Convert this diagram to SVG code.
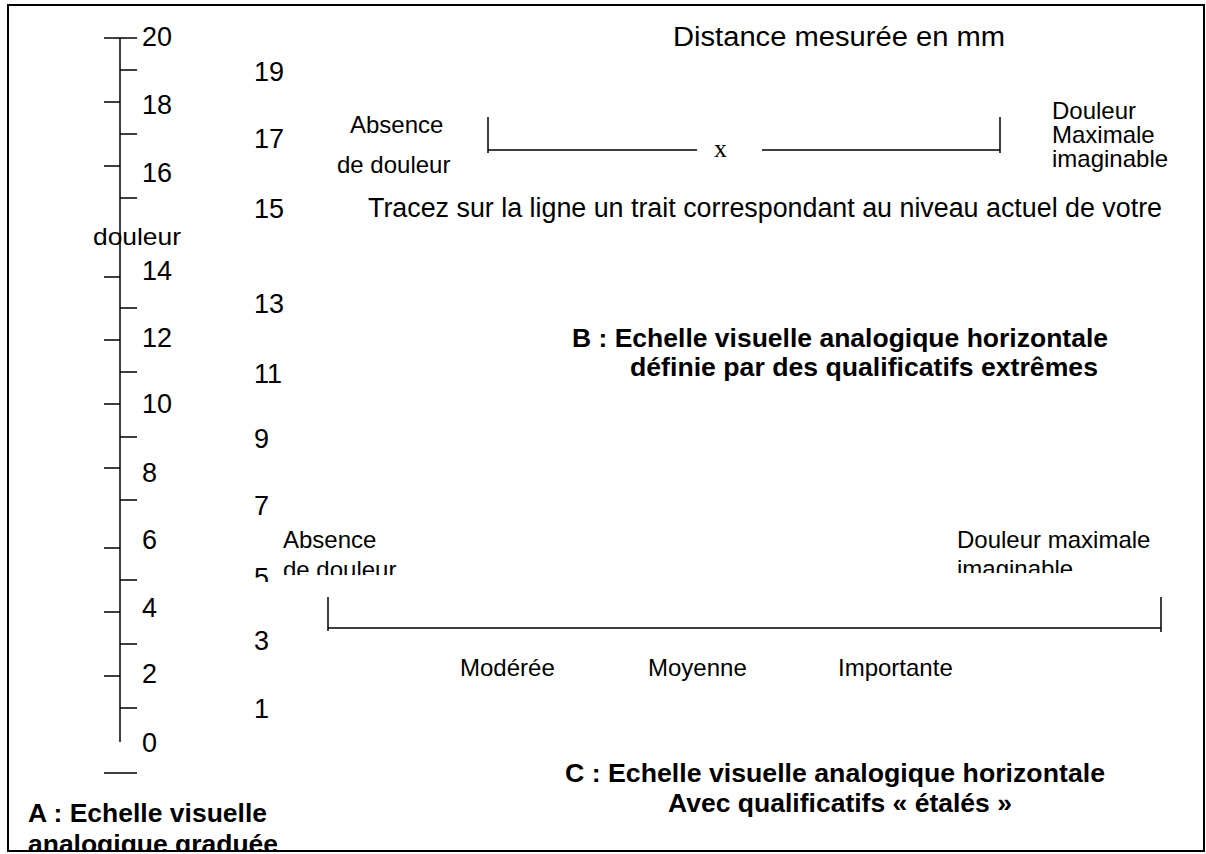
<svg xmlns="http://www.w3.org/2000/svg" width="1206" height="854" viewBox="0 0 1206 854">
<style>
.ln{stroke:#000;stroke-width:1.5;fill:none}
.fr{stroke:#000;stroke-width:2;fill:none}
.n{font-family:"Liberation Sans",Arial,sans-serif;font-size:27px;fill:#000}
.m{font-family:"Liberation Sans",Arial,sans-serif;font-size:24px;fill:#000}
.b{font-family:"Liberation Sans",Arial,sans-serif;font-size:25px;font-weight:bold;fill:#000}
.s{font-family:"Liberation Serif","Times New Roman",serif;font-size:26px;fill:#000}
</style>
<defs>
<clipPath id="cBr"><rect x="1040" y="90" width="160" height="82"/></clipPath>
<clipPath id="cCl"><rect x="270" y="520" width="150" height="55"/></clipPath>
<clipPath id="c5"><rect x="240" y="555" width="40" height="27"/></clipPath>
<clipPath id="cCr"><rect x="940" y="520" width="240" height="53"/></clipPath>
<clipPath id="cA"><rect x="10" y="790" width="300" height="60"/></clipPath>
</defs>
<rect x="0" y="0" width="1206" height="854" fill="#fff"/>
<g id="frame"><rect class="fr" x="8" y="5" width="1196" height="846"/></g>

<g id="scaleA">
<line class="ln" x1="120" y1="38" x2="120" y2="742"/>
<line class="ln" x1="104" y1="38" x2="137" y2="38"/>
<path class="ln" d="M120 70H137M120 134H137M120 198H137M120 308H137M120 372H137M120 437H137M120 500H137M120 580H137M120 644H137M120 708H137"/>
<path class="ln" d="M104 102H120M104 166H120M104 277H120M104 340H120M104 404H120M104 468H120M104 548H120M104 612H120M104 676H120"/>
<line class="ln" x1="104" y1="773" x2="137" y2="773"/>
<text class="n" x="142" y="46">20</text>
<text class="n" x="142" y="114">18</text>
<text class="n" x="142" y="182">16</text>
<text class="n" x="142" y="280">14</text>
<text class="n" x="142" y="347">12</text>
<text class="n" x="142" y="413">10</text>
<text class="n" x="142" y="482">8</text>
<text class="n" x="142" y="549">6</text>
<text class="n" x="142" y="617">4</text>
<text class="n" x="142" y="683">2</text>
<text class="n" x="142" y="752">0</text>
<text class="m" x="93" y="245" textLength="88" lengthAdjust="spacingAndGlyphs">douleur</text>
</g>

<g id="oddNumbers">
<text class="n" x="254" y="81">19</text>
<text class="n" x="254" y="148">17</text>
<text class="n" x="254" y="218">15</text>
<text class="n" x="254" y="313">13</text>
<text class="n" x="254" y="383">11</text>
<text class="n" x="254" y="448">9</text>
<text class="n" x="254" y="515">7</text>
<g clip-path="url(#c5)"><text class="n" x="254" y="587">5</text></g>
<text class="n" x="254" y="650">3</text>
<text class="n" x="254" y="718">1</text>
</g>

<g id="scaleB">
<text class="n" x="673" y="46" textLength="332" lengthAdjust="spacingAndGlyphs">Distance mesurée en mm</text>
<text class="m" x="350" y="133">Absence</text>
<text class="m" x="337" y="173">de douleur</text>
<path class="ln" d="M488 117V153M488 150H697M762 150H1000M1000 117V153"/>
<text class="s" x="714" y="157">x</text>
<g clip-path="url(#cBr)">
<text class="m" x="1052" y="119">Douleur</text>
<text class="m" x="1052" y="143">Maximale</text>
<text class="m" x="1052" y="167">imaginable</text>
</g>
<text class="n" x="368" y="217" textLength="794" lengthAdjust="spacingAndGlyphs">Tracez sur la ligne un trait correspondant au niveau actuel de votre</text>
<text class="b" x="572" y="347" textLength="536" lengthAdjust="spacingAndGlyphs">B : Echelle visuelle analogique horizontale</text>
<text class="b" x="630" y="376" textLength="468" lengthAdjust="spacingAndGlyphs">définie par des qualificatifs extrêmes</text>
</g>

<g id="scaleC">
<text class="m" x="283" y="548">Absence</text>
<g clip-path="url(#cCl)"><text class="m" x="283" y="578">de douleur</text></g>
<text class="m" x="957" y="548">Douleur maximale</text>
<g clip-path="url(#cCr)"><text class="m" x="957" y="577">imaginable</text></g>
<path class="ln" d="M328 597V631M328 628H1161M1161 597V632"/>
<text class="m" x="460" y="676">Modérée</text>
<text class="m" x="648" y="676">Moyenne</text>
<text class="m" x="838" y="676">Importante</text>
<text class="b" x="565" y="782" textLength="540" lengthAdjust="spacingAndGlyphs">C : Echelle visuelle analogique horizontale</text>
<text class="b" x="668" y="812" textLength="344" lengthAdjust="spacingAndGlyphs">Avec qualificatifs « étalés »</text>
</g>

<g id="titleA" clip-path="url(#cA)">
<text class="b" x="28" y="822" textLength="239" lengthAdjust="spacingAndGlyphs">A : Echelle visuelle</text>
<text class="b" x="28" y="853" textLength="250" lengthAdjust="spacingAndGlyphs">analogique graduée</text>
</g>
<g id="connectors"></g>
</svg>
